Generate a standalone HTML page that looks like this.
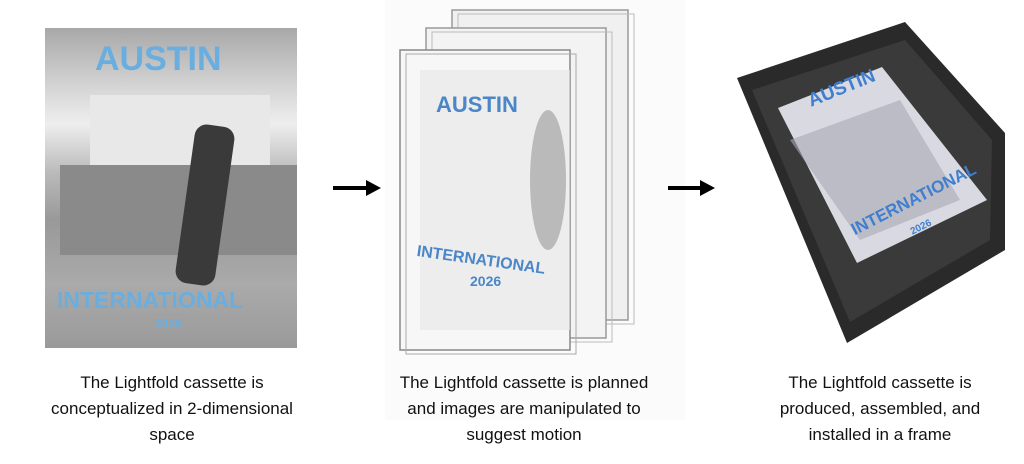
<!DOCTYPE html>
<html><head><meta charset="utf-8"><style>
body{margin:0;width:1024px;height:464px;background:#fff;position:relative;overflow:hidden;font-family:"Liberation Sans",sans-serif}
.cap{position:absolute;text-align:center;font-size:17px;line-height:26px;color:#111;width:320px}
.b{font-weight:bold;color:#4a86c8;position:absolute;white-space:nowrap}
</style></head><body>
<!-- left photo -->
<div style="position:absolute;left:45px;top:28px;width:252px;height:320px;background:linear-gradient(180deg,#a8a8a8 0%,#d8d8d8 20%,#eee 30%,#bbb 45%,#999 60%,#aaa 80%,#9a9a9a 100%)"></div>
<div style="position:absolute;left:90px;top:95px;width:180px;height:70px;background:#e8e8e8"></div>
<div style="position:absolute;left:60px;top:165px;width:237px;height:90px;background:#8a8a8a"></div>
<div style="position:absolute;left:185px;top:125px;width:40px;height:160px;background:#3a3a3a;border-radius:12px;transform:rotate(8deg)"></div>
<div class="b" style="left:95px;top:40px;font-size:34px;color:#6aaee0">AUSTIN</div>
<div class="b" style="left:57px;top:287px;font-size:23px;color:#6aaee0">INTERNATIONAL</div>
<div class="b" style="left:155px;top:317px;font-size:12px;color:#6aaee0">2026</div>
<svg style="position:absolute;left:0;top:0" width="1024" height="464">
<!-- panes -->
<rect x="385" y="0" width="300" height="420" fill="#fbfbfb"/>
<rect x="452" y="10" width="176" height="310" fill="#f0f0f0" stroke="#999" stroke-width="1.5"/>
<rect x="458" y="14" width="176" height="310" fill="none" stroke="#bbb"/>
<rect x="426" y="28" width="180" height="310" fill="#f3f3f3" stroke="#999" stroke-width="1.5"/>
<rect x="432" y="32" width="180" height="310" fill="none" stroke="#bbb"/>
<rect x="400" y="50" width="170" height="300" fill="#f7f7f7" stroke="#888" stroke-width="1.5"/>
<rect x="406" y="54" width="170" height="300" fill="none" stroke="#aaa"/>
<rect x="420" y="70" width="150" height="260" fill="#e6e6e6" opacity=".6"/>
<ellipse cx="548" cy="180" rx="18" ry="70" fill="#888" opacity=".5"/>
<!-- frame -->
<polygon points="737,78 905,22 1005,133 1005,250 847,343" fill="#2a2a2a"/>
<polygon points="752,90 905,40 992,140 990,240 850,322" fill="#3a3a3a"/>
<polygon points="778,108 882,67 987,200 857,263" fill="#d9d9e2"/>
<polygon points="790,140 900,100 960,200 860,240" fill="#a8a8b4" opacity=".6"/>
<!-- arrows -->
<line x1="333" y1="188" x2="368" y2="188" stroke="#000" stroke-width="4"/>
<polygon points="366,180 381,188 366,196" fill="#000"/>
<line x1="668" y1="188" x2="702" y2="188" stroke="#000" stroke-width="4"/>
<polygon points="700,180 715,188 700,196" fill="#000"/>
</svg>
<div class="b" style="left:436px;top:92px;font-size:22px">AUSTIN</div>
<div class="b" style="left:418px;top:243px;font-size:16px;transform:rotate(8deg);transform-origin:left top">INTERNATIONAL</div>
<div class="b" style="left:470px;top:273px;font-size:14px">2026</div>
<div class="b" style="left:805px;top:92px;font-size:19px;transform:rotate(-22deg);transform-origin:left top;color:#3f7fcf">AUSTIN</div>
<div class="b" style="left:848px;top:222px;font-size:17px;transform:rotate(-27deg);transform-origin:left top;color:#3f7fcf">INTERNATIONAL</div>
<div class="b" style="left:910px;top:222px;font-size:10px;transform:rotate(-27deg);color:#3f7fcf">2026</div>
<!-- captions -->
<div class="cap" style="left:12px;top:370px">The Lightfold cassette is<br>conceptualized in 2-dimensional<br>space</div>
<div class="cap" style="left:364px;top:370px">The Lightfold cassette is planned<br>and images are manipulated to<br>suggest motion</div>
<div class="cap" style="left:720px;top:370px">The Lightfold cassette is<br>produced, assembled, and<br>installed in a frame</div>
</body></html>
